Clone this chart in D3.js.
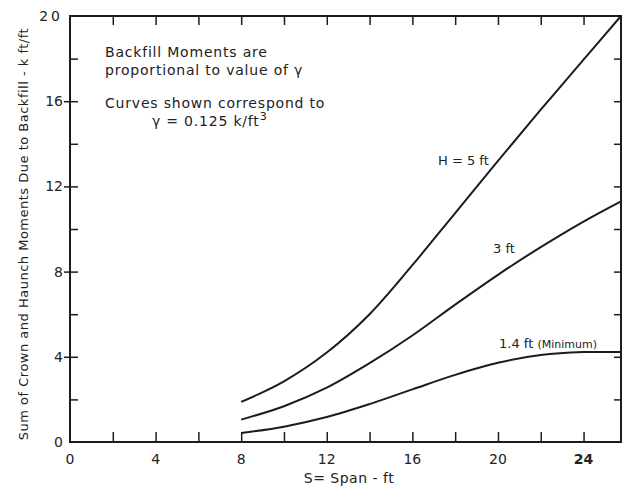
<!DOCTYPE html>
<html>
<head>
<meta charset="utf-8">
<script src="https://cdn.jsdelivr.net/npm/d3@7"></script>
<style>
  body { margin: 0; background: #fff; }
  text { font-family: "DejaVu Sans", sans-serif; fill: #222; }
</style>
</head>
<body>
<div id="container"></div>
<script>
// span S (ft)
const spans = [8, 10, 12, 14, 16, 18, 20, 22, 24, 25.75]
// moments (k ft/ft) for each backfill height H
const h5 = [1.88, 2.85, 4.2, 6.0, 8.3, 10.75, 13.2, 15.6, 17.95, 20]
const h3 = [1.05, 1.68, 2.55, 3.7, 5.0, 6.45, 7.85, 9.15, 10.35, 11.3]
const h14 = [0.42, 0.72, 1.17, 1.78, 2.47, 3.15, 3.72, 4.08, 4.22, 4.22]

const xTickLabels = [0, 4, 8, 12, 16, 20, 24]
const yTickLabels = [0, 4, 8, 12, 16, 20]
const minorTicks = d3.range(2, 26, 2)

const width = 626
const height = 489

const x = d3.scaleLinear([0, 25.75], [70, 621])
const y = d3.scaleLinear([0, 20], [442, 16])

const svg = d3.select('#container')
  .append('svg')
  .attr('width', width)
  .attr('height', height)
  .attr('viewBox', [0, 0, width, height])

const ink = '#1c1c1c'

// frame
svg.append('rect')
  .attr('x', x(0))
  .attr('y', y(20))
  .attr('width', x(25.75) - x(0))
  .attr('height', y(0) - y(20))
  .attr('fill', 'none')
  .attr('stroke', ink)
  .attr('stroke-width', 2)

// bottom ticks (inside, every 2 ft)
svg.append('g')
  .attr('transform', `translate(0,${y(0)})`)
  .call(d3.axisBottom(x).tickValues(minorTicks).tickSizeInner(-10).tickSizeOuter(0).tickFormat(''))
  .call(g => g.select('.domain').remove())
  .call(g => g.selectAll('line').attr('stroke', ink).attr('stroke-width', 1.5))

// top ticks
svg.append('g')
  .attr('transform', `translate(0,${y(20)})`)
  .call(d3.axisTop(x).tickValues(minorTicks).tickSizeInner(-9).tickSizeOuter(0).tickFormat(''))
  .call(g => g.select('.domain').remove())
  .call(g => g.selectAll('line').attr('stroke', ink).attr('stroke-width', 1.5))

// left ticks: majors cross the axis, minors inside
svg.append('g')
  .attr('transform', `translate(${x(0)},0)`)
  .call(d3.axisLeft(y).tickValues(d3.range(2, 20, 2)).tickSizeInner(-8).tickSizeOuter(0).tickFormat(''))
  .call(g => g.select('.domain').remove())
  .call(g => g.selectAll('line').attr('stroke', ink).attr('stroke-width', 1.5))

svg.append('g')
  .attr('transform', `translate(${x(0)},0)`)
  .call(d3.axisLeft(y).tickValues(yTickLabels.slice(1, 5)).tickSize(6).tickFormat(''))
  .call(g => g.select('.domain').remove())
  .call(g => g.selectAll('line').attr('stroke', ink).attr('stroke-width', 1.5))

// right ticks
svg.append('g')
  .attr('transform', `translate(${x(25.75)},0)`)
  .call(d3.axisRight(y).tickValues(d3.range(2, 20, 2)).tickSizeInner(-7).tickSizeOuter(0).tickFormat(''))
  .call(g => g.select('.domain').remove())
  .call(g => g.selectAll('line').attr('stroke', ink).attr('stroke-width', 1.5))

// tick labels
svg.append('g')
  .selectAll('text')
  .data(xTickLabels)
  .join('text')
  .attr('x', d => x(d))
  .attr('y', 464)
  .attr('text-anchor', 'middle')
  .attr('font-size', 14)
  .attr('font-weight', d => d === 24 ? 'bold' : 'normal')
  .text(d => d)

svg.append('g')
  .selectAll('text')
  .data(yTickLabels)
  .join('text')
  .attr('x', 63)
  .attr('y', d => y(d) + 5)
  .attr('text-anchor', 'end')
  .attr('font-size', 14)
  .attr('letter-spacing', d => d === 20 ? 3 : 0)
  .text(d => d)

// axis titles
svg.append('text')
  .attr('x', 349)
  .attr('y', 483)
  .attr('text-anchor', 'middle')
  .attr('font-size', 14)
  .attr('letter-spacing', 0.5)
  .text('S= Span - ft')

svg.append('text')
  .attr('transform', 'translate(28,234) rotate(-90)')
  .attr('text-anchor', 'middle')
  .attr('font-size', 13)
  .attr('letter-spacing', 0.5)
  .text('Sum of Crown and Haunch Moments Due to Backfill - k ft/ft')

// curves
const line = d3.line()
  .x((d, i) => x(spans[i]))
  .y(d => y(d))
  .curve(d3.curveCatmullRom)

svg.append('g')
  .selectAll('path')
  .data([h5, h3, h14])
  .join('path')
  .attr('d', line)
  .attr('fill', 'none')
  .attr('stroke', ink)
  .attr('stroke-width', 2)

// curve labels
svg.append('text').attr('x', 438).attr('y', 165).attr('font-size', 13).text('H = 5 ft')
svg.append('text').attr('x', 493).attr('y', 253).attr('font-size', 13).text('3 ft')
svg.append('text').attr('x', 499).attr('y', 348).attr('font-size', 13)
  .text('1.4 ft ')
  .append('tspan').attr('font-size', 11).text('(Minimum)')

// note
const note = svg.append('g').attr('font-size', 14).attr('letter-spacing', 0.8)
note.append('text').attr('x', 105).attr('y', 57).text('Backfill Moments are')
note.append('text').attr('x', 105).attr('y', 75).text('proportional to value of γ')
note.append('text').attr('x', 105).attr('y', 108).text('Curves shown correspond to')
note.append('text').attr('x', 152).attr('y', 126)
  .text('γ = 0.125 k/ft')
  .append('tspan').attr('dy', -6).attr('font-size', 11).text('3')
</script>
</body>
</html>
